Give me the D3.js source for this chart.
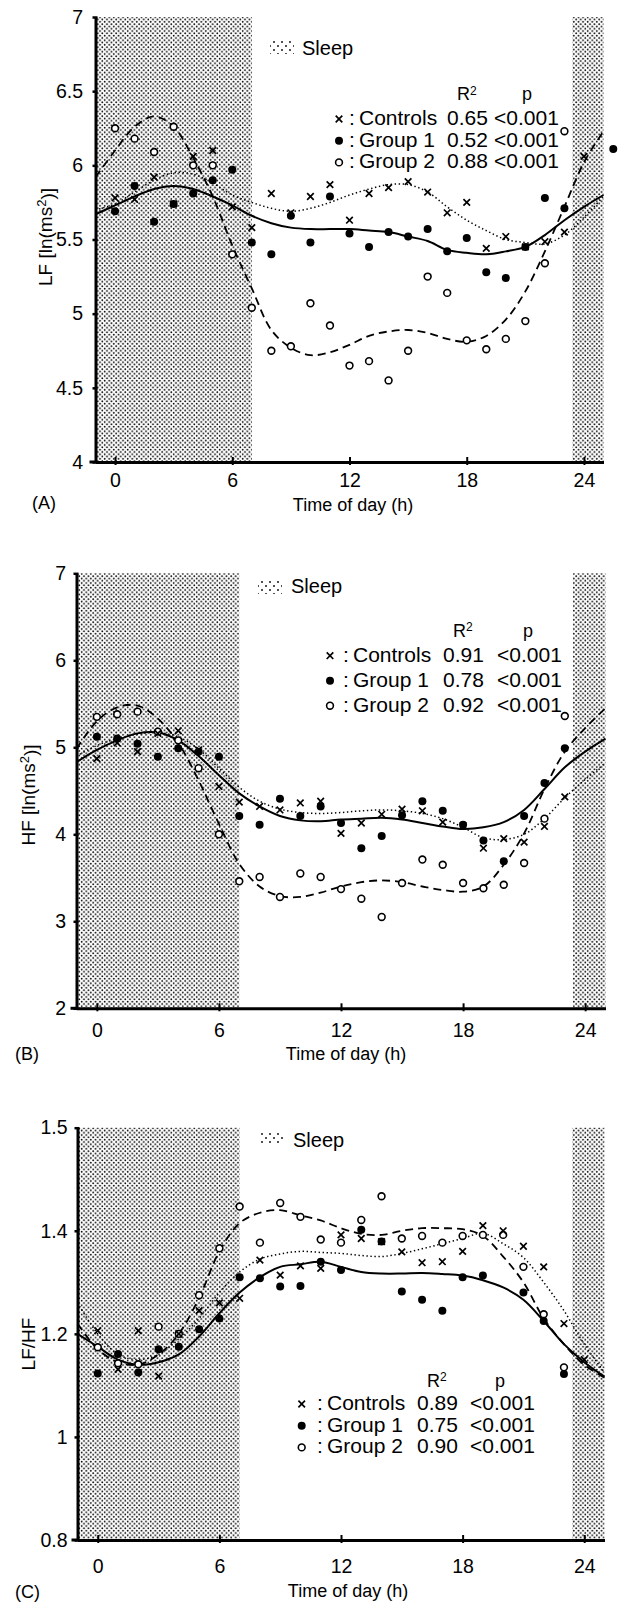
<!DOCTYPE html>
<html>
<head>
<meta charset="utf-8">
<script src="https://cdn.jsdelivr.net/npm/d3@7"></script>
<style>
    body { margin: 0; background: #fff; }
    svg { display: block; font-family: "Liberation Sans", Arial, Helvetica, sans-serif; }
</style>
</head>
<body>
<div id="chart"></div>
<script>
// hours that carry a measured point, and hours that carry the fitted curve
const pointHours = [0, 1, 2, 3, 4, 5, 6, 7, 8, 9, 10, 11, 12, 13, 14, 15, 16, 17, 18, 19, 20, 21, 22, 23];
const fitHours = [-1, 0, 1, 2, 3, 4, 5, 6, 7, 8, 9, 10, 11, 12, 13, 14, 15, 16, 17, 18, 19, 20, 21, 22, 23, 24, 25];
const sleepPeriods = [[-1, 7], [23.4, 25]];
const xTicks = [0, 6, 12, 18, 24];

const groupNames = ["Controls", "Group 1", "Group 2"];
const pValues = ["<0.001", "<0.001", "<0.001"];

// (A) LF
const lfTicks = [4, 4.5, 5, 5.5, 6, 6.5, 7];
const lfR2 = ["0.65", "0.52", "0.88"];
const lfControls = [5.78, 5.77, 5.92, 5.74, 6.06, 6.10, 5.72, 5.58, 5.81, 5.68, 5.79, 5.87, 5.63, 5.81, 5.85, 5.89, 5.82, 5.68, 5.75, 5.44, 5.52, 5.45, 5.485, 5.55];
const lfGroup1 = [5.69, 5.86, 5.62, 5.74, 5.81, 5.90, 5.97, 5.48, 5.40, 5.66, 5.48, 5.79, 5.54, 5.45, 5.55, 5.52, 5.57, 5.42, 5.51, 5.28, 5.24, 5.45, 5.78, 5.71];
const lfGroup2 = [6.25, 6.18, 6.09, 6.26, 6.00, 6.00, 5.40, 5.04, 4.75, 4.78, 5.07, 4.92, 4.65, 4.68, 4.55, 4.75, 5.25, 5.14, 4.82, 4.76, 4.83, 4.95, 5.34, 6.23];
const lfControlsExtra = [[24, 6.06]];
const lfGroup1Extra = [[25.5, 6.11]];
const lfFitControls = [5.70, 5.74, 5.82, 5.90, 5.95, 5.94, 5.88, 5.80, 5.75, 5.71, 5.69, 5.71, 5.75, 5.80, 5.84, 5.87, 5.87, 5.82, 5.72, 5.63, 5.56, 5.50, 5.48, 5.47, 5.53, 5.65, 5.79];
const lfFitGroup1 = [5.67, 5.73, 5.79, 5.84, 5.86, 5.84, 5.79, 5.73, 5.66, 5.61, 5.58, 5.57, 5.57, 5.57, 5.56, 5.55, 5.52, 5.49, 5.43, 5.41, 5.40, 5.42, 5.45, 5.53, 5.63, 5.72, 5.80];
const lfFitGroup2 = [5.92, 6.10, 6.26, 6.33, 6.26, 6.05, 5.79, 5.46, 5.17, 4.89, 4.77, 4.72, 4.74, 4.79, 4.85, 4.88, 4.89, 4.87, 4.83, 4.81, 4.85, 4.96, 5.15, 5.42, 5.72, 6.02, 6.23];

// (B) HF
const hfTicks = [2, 3, 4, 5, 6, 7];
const hfR2 = ["0.91", "0.78", "0.92"];
const hfControls = [4.87, 5.05, 4.95, 5.16, 5.19, 4.97, 4.55, 4.37, 4.32, 4.28, 4.36, 4.38, 4.01, 4.13, 4.23, 4.29, 4.27, 4.14, 4.10, 3.84, 3.95, 3.91, 4.09, 4.43];
const hfGroup1 = [5.12, 5.10, 5.04, 4.89, 4.99, 4.95, 4.89, 4.21, 4.11, 4.41, 4.21, 4.32, 4.13, 3.84, 3.98, 4.22, 4.38, 4.27, 4.11, 3.93, 3.69, 4.21, 4.59, 4.99];
const hfGroup2 = [5.35, 5.38, 5.41, 5.18, 5.08, 4.76, 4.00, 3.46, 3.51, 3.28, 3.55, 3.51, 3.37, 3.26, 3.05, 3.44, 3.71, 3.65, 3.44, 3.38, 3.42, 3.67, 4.18, 5.36];
const hfFitControls = [4.90, 5.02, 5.10, 5.15, 5.17, 5.12, 4.98, 4.76, 4.54, 4.38, 4.29, 4.25, 4.24, 4.25, 4.27, 4.28, 4.27, 4.24, 4.18, 4.08, 3.96, 3.94, 4.00, 4.18, 4.42, 4.63, 4.82];
const hfFitGroup1 = [4.83, 4.97, 5.08, 5.16, 5.17, 5.08, 4.90, 4.68, 4.47, 4.32, 4.21, 4.16, 4.15, 4.17, 4.18, 4.19, 4.17, 4.13, 4.09, 4.06, 4.08, 4.14, 4.28, 4.52, 4.77, 4.95, 5.10];
const hfFitGroup2 = [4.98, 5.30, 5.46, 5.48, 5.33, 5.05, 4.62, 4.12, 3.66, 3.40, 3.29, 3.28, 3.33, 3.40, 3.45, 3.47, 3.45, 3.40, 3.36, 3.34, 3.40, 3.65, 4.01, 4.52, 4.95, 5.22, 5.45];

// (C) LF/HF
const ratioTicks = [0.8, 1, 1.2, 1.4, 1.6];
const ratioTickLabels = ["0.8", "1", "1.2", "1.4", "1.5"];
const ratioR2 = ["0.89", "0.75", "0.90"];
const ratioControls = [1.206, 1.131, 1.206, 1.118, 1.20, 1.245, 1.260, 1.269, 1.343, 1.314, 1.332, 1.327, 1.392, 1.385, 1.379, 1.359, 1.338, 1.34, 1.36, 1.41, 1.40, 1.37, 1.33, 1.22];
const ratioGroup1 = [1.123, 1.161, 1.125, 1.170, 1.175, 1.209, 1.230, 1.310, 1.308, 1.292, 1.293, 1.340, 1.324, 1.402, 1.379, 1.282, 1.266, 1.245, 1.31, 1.313, null, 1.28, 1.225, 1.122];
const ratioGroup2 = [1.174, 1.143, 1.141, 1.214, 1.200, 1.275, 1.366, 1.447, 1.377, 1.454, 1.427, 1.383, 1.377, 1.421, 1.467, 1.385, 1.390, 1.377, 1.39, 1.392, 1.392, 1.33, 1.238, 1.135];
const ratioControlsExtra = [[24, 1.15]];
const ratioFitControls = [1.26, 1.20, 1.16, 1.15, 1.16, 1.19, 1.23, 1.28, 1.32, 1.345, 1.355, 1.36, 1.358, 1.356, 1.352, 1.35, 1.356, 1.365, 1.375, 1.385, 1.395, 1.375, 1.348, 1.30, 1.245, 1.18, 1.125];
const ratioFitGroup1 = [1.20, 1.175, 1.15, 1.14, 1.145, 1.16, 1.195, 1.24, 1.28, 1.31, 1.33, 1.335, 1.34, 1.33, 1.32, 1.317, 1.317, 1.318, 1.316, 1.313, 1.304, 1.29, 1.266, 1.225, 1.18, 1.145, 1.117];
const ratioFitGroup2 = [1.22, 1.17, 1.145, 1.14, 1.16, 1.20, 1.27, 1.36, 1.415, 1.435, 1.44, 1.43, 1.42, 1.405, 1.394, 1.392, 1.40, 1.405, 1.405, 1.403, 1.39, 1.35, 1.30, 1.23, 1.18, 1.14, 1.115];

const panels = [
    {
        label: "(A)", yTitle: ["LF [ln(ms", "2", ")]"], yDomain: [4, 7], yTicks: lfTicks, yLabels: null,
        left: 95.5, right: 603.5, top: 17, bottom: 462, yPad: 9.5, xLabelY: 25,
        series: [lfControls, lfGroup1, lfGroup2], extras: [lfControlsExtra, lfGroup1Extra, []],
        fits: [lfFitControls, lfFitGroup1, lfFitGroup2], r2: lfR2,
        sleepKey: { x: 270, y: 40, textX: 302, baseline: 55 },
        legend: { header: 100, r2X: 457, pX: 522, row0: 125, step: 21.7, markX: 339, colonX: 349, nameX: 359, valX: 447, pValX: 494 },
        yTitlePos: [45, 237], xTitlePos: [353, 511], labelPos: [32, 509]
    },
    {
        label: "(B)", yTitle: ["HF [ln(ms", "2", ")]"], yDomain: [2, 7], yTicks: hfTicks, yLabels: null,
        left: 76.5, right: 605.5, top: 573.3, bottom: 1008.3, yPad: 7.5, xLabelY: 29,
        series: [hfControls, hfGroup1, hfGroup2], extras: [[], [], []],
        fits: [hfFitControls, hfFitGroup1, hfFitGroup2], r2: hfR2,
        sleepKey: { x: 258, y: 580, textX: 291, baseline: 593 },
        legend: { header: 636.7, r2X: 453, pX: 523, row0: 661.7, step: 25, markX: 330, colonX: 343, nameX: 353, valX: 443, pValX: 497 },
        yTitlePos: [28, 795], xTitlePos: [346, 1060], labelPos: [15, 1060]
    },
    {
        label: "(C)", yTitle: ["LF/HF"], yDomain: [0.8, 1.6], yTicks: ratioTicks, yLabels: ratioTickLabels,
        left: 77.5, right: 604.5, top: 1127.7, bottom: 1540, yPad: 7, xLabelY: 33,
        series: [ratioControls, ratioGroup1, ratioGroup2], extras: [ratioControlsExtra, [], []],
        fits: [ratioFitControls, ratioFitGroup1, ratioFitGroup2], r2: ratioR2,
        sleepKey: { x: 260, y: 1131, textX: 293, baseline: 1146.7 },
        legend: { header: 1386.7, r2X: 427, pX: 495, row0: 1410, step: 21.7, markX: 301.7, colonX: 317, nameX: 327, valX: 417, pValX: 470 },
        yTitlePos: [28, 1344], xTitlePos: [348, 1597], labelPos: [15, 1598]
    }
];

const fitStyles = [
    { dash: "1.4,2.6", width: 1.5 },   // controls: dotted
    { dash: null, width: 2 },          // group 1: solid
    { dash: "8,5", width: 1.8 }        // group 2: dashed
];

const svg = d3.select("#chart").append("svg")
    .attr("width", 619)
    .attr("height", 1624);

const defs = svg.append("defs");
const dots = defs.append("pattern")
    .attr("id", "sleep-dots")
    .attr("patternUnits", "userSpaceOnUse")
    .attr("width", 4.6)
    .attr("height", 4.6);
dots.append("circle").attr("cx", 1.15).attr("cy", 1.15).attr("r", 0.9).attr("fill", "#000");
dots.append("circle").attr("cx", 3.45).attr("cy", 3.45).attr("r", 0.9).attr("fill", "#000");

const keyDots = defs.append("pattern")
    .attr("id", "sleep-key-dots")
    .attr("patternUnits", "userSpaceOnUse")
    .attr("width", 8)
    .attr("height", 8);
keyDots.append("circle").attr("cx", 2).attr("cy", 2).attr("r", 0.9).attr("fill", "#000");
keyDots.append("circle").attr("cx", 6).attr("cy", 6).attr("r", 0.9).attr("fill", "#000");

const timesSymbol = d3.symbol().type(d3.symbolTimes || d3.symbolCross).size(30);

panels.forEach(p => createPanel(p));

function drawMarkers(g, kind, pts, x, y) {
    if (kind === 0) {
        g.append("g").selectAll("path")
            .data(pts)
            .enter().append("path")
            .attr("transform", d => `translate(${x(d[0])},${y(d[1])})`)
            .attr("d", timesSymbol)
            .attr("fill", "none")
            .attr("stroke", "#000")
            .attr("stroke-width", 1.7);
    } else if (kind === 1) {
        g.append("g").selectAll("circle")
            .data(pts)
            .enter().append("circle")
            .attr("cx", d => x(d[0]))
            .attr("cy", d => y(d[1]))
            .attr("r", 4)
            .attr("fill", "#000");
    } else {
        g.append("g").selectAll("circle")
            .data(pts)
            .enter().append("circle")
            .attr("cx", d => x(d[0]))
            .attr("cy", d => y(d[1]))
            .attr("r", 3.4)
            .attr("fill", "#fff")
            .attr("stroke", "#000")
            .attr("stroke-width", 1.6);
    }
}

function createPanel(p) {
    const g = svg.append("g");
    const x = d3.scaleLinear().domain([-1, 25]).range([p.left, p.right]);
    const y = d3.scaleLinear().domain(p.yDomain).range([p.bottom, p.top]);

    // sleep shading
    g.append("g").selectAll("rect")
        .data(sleepPeriods)
        .enter().append("rect")
        .attr("x", d => x(d[0]))
        .attr("y", p.top)
        .attr("width", d => x(d[1]) - x(d[0]))
        .attr("height", p.bottom - p.top)
        .attr("fill", "url(#sleep-dots)");

    // fitted curves
    const line = d3.line()
        .x(d => x(d[0]))
        .y(d => y(d[1]))
        .curve(d3.curveCatmullRom);

    p.fits.forEach((fit, i) => {
        g.append("path")
            .datum(fitHours.map((h, j) => [h, fit[j]]))
            .attr("d", line)
            .attr("fill", "none")
            .attr("stroke", "#000")
            .attr("stroke-width", fitStyles[i].width)
            .attr("stroke-dasharray", fitStyles[i].dash);
    });

    // measured points: filled, open, then crosses on top
    [1, 2, 0].forEach(i => {
        const pts = pointHours.map((h, j) => [h, p.series[i][j]])
            .filter(d => d[1] !== null)
            .concat(p.extras[i]);
        drawMarkers(g, i, pts, x, y);
    });

    // axes
    const xAxis = g.append("g")
        .attr("transform", `translate(0,${p.bottom})`)
        .call(d3.axisBottom(x).tickValues(xTicks).tickSizeOuter(0).tickSizeInner(3));
    xAxis.selectAll(".tick line").attr("y1", -5).attr("y2", 3).attr("stroke-width", 2);
    xAxis.selectAll(".tick text")
        .attr("y", p.xLabelY)
        .attr("dy", 0)
        .style("font-size", "19.5px")
        .style("font-family", "'Liberation Sans', Arial, sans-serif")
        .attr("fill", "#000");
    // the baseline runs a little past the left axis
    xAxis.append("line")
        .attr("x1", x.range()[0] - 6)
        .attr("x2", x.range()[0])
        .attr("stroke", "#000")
        .attr("stroke-width", 3);

    const yAxis = g.append("g")
        .attr("transform", `translate(${p.left},0)`)
        .call(d3.axisLeft(y)
            .tickValues(p.yTicks)
            .tickSizeOuter(0)
            .tickSizeInner(3)
            .tickPadding(p.yPad)
            .tickFormat((d, i) => p.yLabels ? p.yLabels[i] : d3.format("")(d)));
    yAxis.selectAll(".tick line").attr("x1", 2).attr("x2", -3).attr("stroke-width", 2.5);
    yAxis.selectAll(".tick text")
        .style("font-size", "19.5px")
        .style("font-family", "'Liberation Sans', Arial, sans-serif")
        .attr("fill", "#000");

    [xAxis, yAxis].forEach(a => a.select(".domain").attr("stroke", "#000").attr("stroke-width", 3));

    // axis titles
    const yt = g.append("text")
        .attr("transform", `translate(${p.yTitlePos[0]},${p.yTitlePos[1]}) rotate(-90)`)
        .attr("text-anchor", "middle")
        .attr("dy", "0.35em")
        .style("font-size", "19px");
    yt.append("tspan").text(p.yTitle[0]);
    if (p.yTitle.length > 1) {
        yt.append("tspan").attr("dy", "-0.4em").style("font-size", "13px").text(p.yTitle[1]);
        yt.append("tspan").attr("dy", "0.4em").text(p.yTitle[2]);
    }

    g.append("text")
        .attr("x", p.xTitlePos[0])
        .attr("y", p.xTitlePos[1])
        .attr("text-anchor", "middle")
        .style("font-size", "18px")
        .text("Time of day (h)");

    g.append("text")
        .attr("x", p.labelPos[0])
        .attr("y", p.labelPos[1])
        .style("font-size", "18px")
        .text(p.label);

    // sleep key
    g.append("rect")
        .attr("x", p.sleepKey.x)
        .attr("y", p.sleepKey.y)
        .attr("width", 24)
        .attr("height", 14)
        .attr("fill", "url(#sleep-key-dots)");
    g.append("text")
        .attr("x", p.sleepKey.textX)
        .attr("y", p.sleepKey.baseline)
        .style("font-size", "20px")
        .text("Sleep");

    // statistics legend
    const lg = p.legend;
    const head = g.append("text").attr("x", lg.r2X).attr("y", lg.header).style("font-size", "18px");
    head.append("tspan").text("R");
    head.append("tspan").attr("dy", "-0.45em").style("font-size", "12px").text("2");
    g.append("text").attr("x", lg.pX).attr("y", lg.header).style("font-size", "18px").text("p");

    const rows = g.append("g").selectAll("g")
        .data(groupNames)
        .enter().append("g")
        .attr("transform", (d, i) => `translate(0,${lg.row0 + i * lg.step})`);

    rows.each(function (d, i) {
        const row = d3.select(this);
        drawMarkers(row, i, [[0, 0]], () => lg.markX, () => -6);
        row.append("text").attr("x", lg.colonX).style("font-size", "21px").text(":");
        row.append("text").attr("x", lg.nameX).style("font-size", "21px").text(d);
        row.append("text").attr("x", lg.valX).style("font-size", "21px").text(p.r2[i]);
        row.append("text").attr("x", lg.pValX).style("font-size", "21px").text(pValues[i]);
    });
}
</script>
</body>
</html>
